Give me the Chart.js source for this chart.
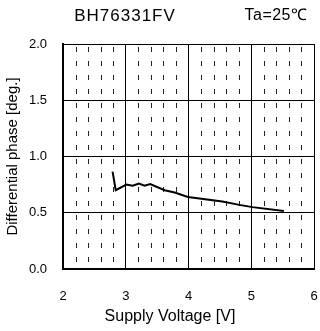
<!DOCTYPE html>
<html><head><meta charset="utf-8">
<script src="https://cdn.jsdelivr.net/npm/chart.js@4"></script>
<style>html,body{margin:0;padding:0;background:#fff}#wrap{width:320px;height:331px}</style>
</head><body><div id="wrap"><canvas id="c" width="320" height="331"></canvas></div>
<script>
const voltage = [2.79, 2.84, 3.01, 3.11, 3.21, 3.30, 3.39, 3.62, 3.78, 3.99, 4.54, 4.81, 5.02, 5.52];
const phase   = [0.865, 0.70, 0.75, 0.74, 0.76, 0.74, 0.755, 0.70, 0.68, 0.64, 0.60, 0.57, 0.55, 0.515];
const xTicks = [2, 3, 4, 5, 6];
const yTicks = [0.0, 0.5, 1.0, 1.5, 2.0];
const minorX = [2.2, 2.4, 2.6, 2.8, 3.2, 3.4, 3.6, 3.8, 4.2, 4.4, 4.6, 4.8, 5.2, 5.4, 5.6, 5.8];
const chartTitle = 'BH76331FV';
const condition = 'Ta=25\u2103';
const xTitle = 'Supply Voltage [V]';
const yTitle = 'Differential phase [deg.]';

const tickFont = {family: '"Liberation Sans Narrow", "Liberation Sans", Arial, sans-serif', size: 13};
const yTitleFont = {family: '"Liberation Sans", Arial, sans-serif', size: 15};

const minorPlugin = {
  id: 'minor',
  beforeDatasetsDraw(chart) {
    const {ctx, chartArea: a, scales: {x}} = chart;
    ctx.save();
    ctx.strokeStyle = '#222';
    ctx.lineWidth = 1;
    ctx.setLineDash([5, 9]);
    ctx.lineDashOffset = -3;
    minorX.forEach(v => {
      const px = Math.round(x.getPixelForValue(v)) + 0.5;
      ctx.beginPath(); ctx.moveTo(px, a.top); ctx.lineTo(px, a.bottom); ctx.stroke();
    });
    ctx.restore();
  },
  afterDraw(chart) {
    const {ctx} = chart;
    ctx.save();
    ctx.fillStyle = '#000';
    ctx.textBaseline = 'middle';
    ctx.textAlign = 'center';
    ctx.font = '17px "Liberation Sans", Arial, sans-serif';
    ctx.letterSpacing = '1px';
    ctx.fillText(chartTitle, 125, 16);
    ctx.font = '16px "Liberation Sans", Arial, sans-serif';
    ctx.letterSpacing = '0.5px';
    ctx.fillText(condition, 276, 16);
    ctx.letterSpacing = '0px';
    ctx.fillText(xTitle, 170, 317);
    ctx.restore();
  }
};

new Chart(document.getElementById('c'), {
  type: 'line',
  data: {datasets: [{data: voltage.map((v, i) => ({x: v, y: phase[i]})), borderColor: '#000', borderWidth: 2, pointRadius: 0, tension: 0, fill: false}]},
  options: {
    responsive: false, animation: false, devicePixelRatio: 1,
    layout: {padding: {left: 0, right: 6, top: 44, bottom: 0}},
    plugins: {legend: {display: false}, tooltip: {enabled: false}},
    scales: {
      x: {
        type: 'linear', min: 2, max: 6,
        afterBuildTicks: s => { s.ticks = xTicks.map(v => ({value: v})); },
        afterFit: s => { s.height = 62; s.paddingLeft = 0; s.paddingRight = 0; },
        ticks: {font: tickFont, color: '#000', padding: 20, maxRotation: 0, callback: v => String(v)},
        grid: {color: '#000', lineWidth: 1, drawTicks: false},
        border: {color: '#000', width: 2},
        title: {display: false}
      },
      y: {
        min: 0, max: 2,
        afterBuildTicks: s => { s.ticks = yTicks.map(v => ({value: v})); },
        afterFit: s => { s.width = 63; s.paddingTop = 0; s.paddingBottom = 0; },
        ticks: {font: tickFont, color: '#000', padding: 16, callback: v => v.toFixed(1)},
        grid: {color: '#000', lineWidth: 1, drawTicks: false},
        border: {color: '#000', width: 2},
        title: {display: true, text: yTitle, font: yTitleFont, color: '#000', padding: {top: 4, bottom: 0}}
      }
    }
  },
  plugins: [minorPlugin]
});
</script></body></html>
